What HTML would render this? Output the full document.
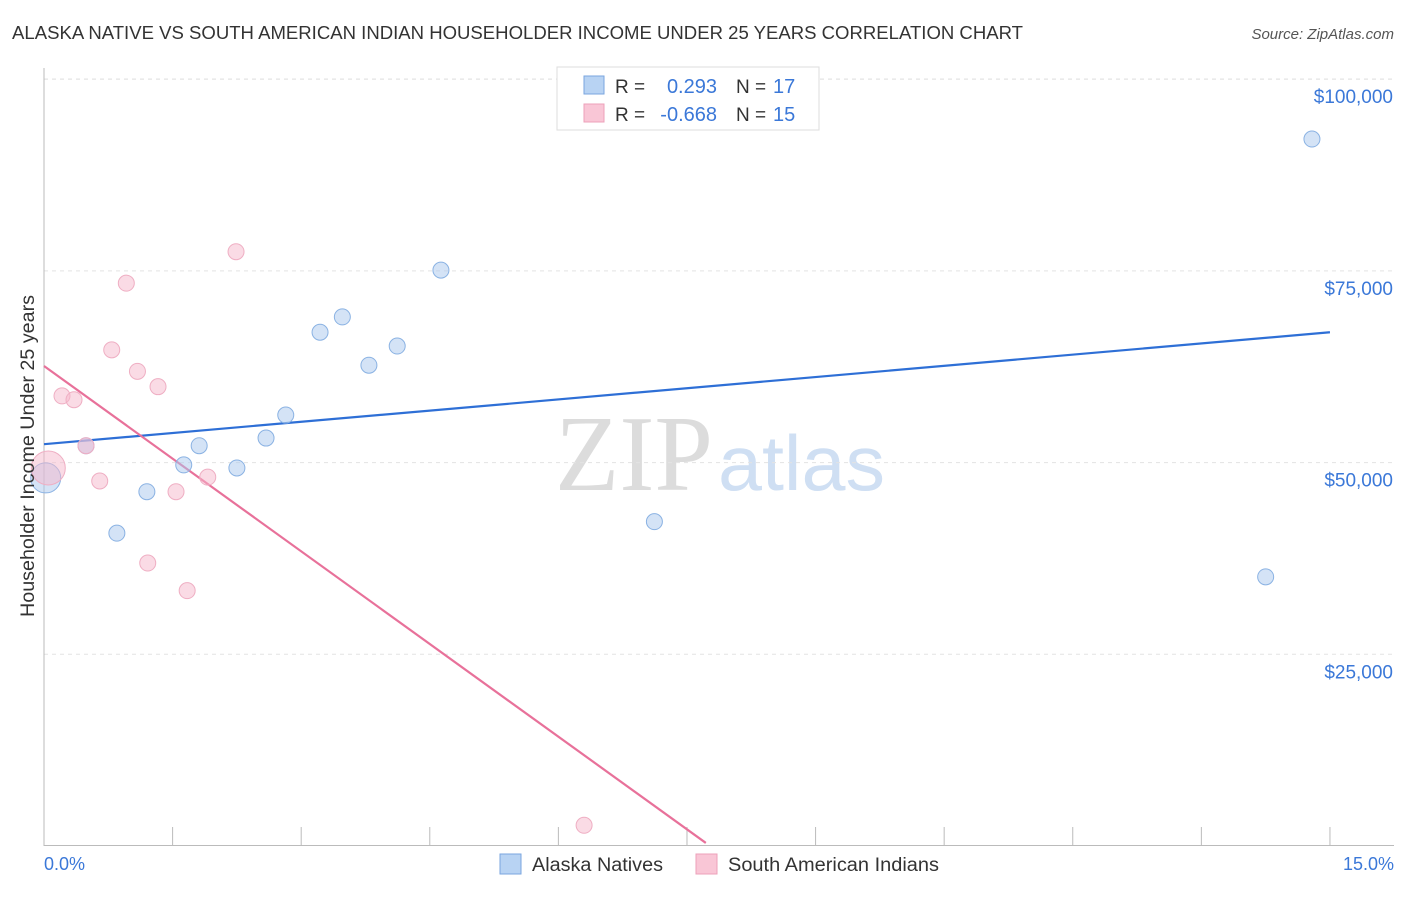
<!DOCTYPE html>
<html><head><meta charset="utf-8"><style>
body{margin:0;background:#fff;font-family:"Liberation Sans",sans-serif;}
</style></head><body>
<svg width="1406" height="892" xmlns="http://www.w3.org/2000/svg" id="chart">
<text x="12" y="39" font-size="18" fill="#333" textLength="1011" lengthAdjust="spacingAndGlyphs">ALASKA NATIVE VS SOUTH AMERICAN INDIAN HOUSEHOLDER INCOME UNDER 25 YEARS CORRELATION CHART</text>
<text x="1394" y="39" font-size="15" fill="#555" font-style="italic" text-anchor="end">Source: ZipAtlas.com</text>
<text x="555" y="490" font-size="108" fill="#dcdcdc" textLength="158" lengthAdjust="spacingAndGlyphs" font-family="Liberation Serif,serif">ZIP</text>
<text x="718" y="490" font-size="78" fill="#cfdff3" textLength="167" lengthAdjust="spacingAndGlyphs">atlas</text>
<g id="grid"></g><g id="axes"></g><g id="trends"></g><g id="points"></g>
<text transform="translate(34,456) rotate(-90)" font-size="19" fill="#333" text-anchor="middle" textLength="322" lengthAdjust="spacingAndGlyphs">Householder Income Under 25 years</text>
<text x="44" y="870" font-size="18" fill="#3b78d8">0.0%</text>
<text x="1394" y="870" font-size="18" fill="#3b78d8" text-anchor="end">15.0%</text>
<g>
<rect x="557" y="67" width="262" height="63" fill="#fff" stroke="#ddd"/>
<rect x="584" y="76" width="20" height="18" fill="#b8d3f3" stroke="#7aa6df"/>
<rect x="584" y="104" width="20" height="18" fill="#f9c6d6" stroke="#eda0ba"/>
<text x="615" y="93" font-size="19" fill="#333">R = </text><text x="717" y="93" font-size="20" fill="#3b78d8" text-anchor="end">0.293</text>
<text x="736" y="93" font-size="19" fill="#333">N = </text><text x="773" y="93" font-size="20" fill="#3b78d8">17</text>
<text x="615" y="121" font-size="19" fill="#333">R = </text><text x="717" y="121" font-size="20" fill="#3b78d8" text-anchor="end">-0.668</text>
<text x="736" y="121" font-size="19" fill="#333">N = </text><text x="773" y="121" font-size="20" fill="#3b78d8">15</text>
</g>
<g>
<rect x="500" y="854" width="21" height="20" fill="#b8d3f3" stroke="#7aa6df"/>
<text x="532" y="871" font-size="19" fill="#333" textLength="131" lengthAdjust="spacingAndGlyphs">Alaska Natives</text>
<rect x="696" y="854" width="21" height="20" fill="#f9c6d6" stroke="#eda0ba"/>
<text x="728" y="871" font-size="19" fill="#333" textLength="211" lengthAdjust="spacingAndGlyphs">South American Indians</text>
</g>
</svg>
<script>
const yTicks=[25000,50000,75000,100000];
const yTickLabels=["$25,000","$50,000","$75,000","$100,000"];
const xTicks=[0,1.5,3,4.5,6,7.5,9,10.5,12,13.5,15];
const blueX=[0.02,0.49,0.85,1.20,1.63,1.81,2.25,2.59,2.82,3.22,3.48,3.79,4.12,4.63,7.12,14.25,14.79];
const blueY=[48000,52200,40800,46200,49700,52200,49300,53200,56200,67000,69000,62700,65200,75100,42300,35100,92200];
const pinkX=[0.05,0.21,0.35,0.49,0.65,0.79,0.96,1.09,1.21,1.33,1.54,1.67,1.91,2.24,6.30];
const pinkY=[49300,58700,58200,52200,47600,64700,73400,61900,36900,59900,46200,33300,48100,77500,2700];
const blueTrendX=[0,15];
const blueTrendY=[52400,67000];
const pinkTrendX=[0,7.72];
const pinkTrendY=[62600,400];
const NS="http://www.w3.org/2000/svg";
const sx=v=>44+v*85.73, sy=v=>846-v/25000*191.7;
function mk(tag,attrs,parent){const e=document.createElementNS(NS,tag);for(const k in attrs)e.setAttribute(k,attrs[k]);document.getElementById(parent).appendChild(e);return e;}
yTicks.forEach((t,i)=>{
 const l=mk('line',{x1:44,x2:1394,y1:sy(t),y2:sy(t),stroke:'#e3e3e3','stroke-dasharray':'4,4'},'grid');
 
 
 const tx=mk('text',{x:1393,y:sy(t)+24,'font-size':19,fill:'#3b78d8','text-anchor':'end'},'grid');
 tx.textContent=yTickLabels[i];
 
 
});
const tg=mk('line',{x1:44,x2:1394,y1:79,y2:79,stroke:'#e3e3e3','stroke-dasharray':'4,4'},'grid');


const ya=mk('line',{x1:44,x2:44,y1:68,y2:846,stroke:'#bbb'},'axes');


const xa=mk('line',{x1:44,x2:1394,y1:845.5,y2:845.5,stroke:'#bbb'},'axes');


xTicks.forEach(t=>{
 const l=mk('line',{x1:sx(t),x2:sx(t),y1:827,y2:846,stroke:'#bbb'},'axes');
 
 
});
const bl=mk('line',{x1:sx(blueTrendX[0]),y1:sy(blueTrendY[0]),x2:sx(blueTrendX[1]),y2:sy(blueTrendY[1]),stroke:'#2e6fd6','stroke-width':2.2},'trends');


const pl=mk('line',{x1:sx(pinkTrendX[0]),y1:sy(pinkTrendY[0]),x2:sx(pinkTrendX[1]),y2:sy(pinkTrendY[1]),stroke:'#e8719a','stroke-width':2.2},'trends');


blueX.forEach((x,i)=>{
 const c=mk('circle',{cx:sx(x),cy:sy(blueY[i]),r:i===0?15:8,fill:'rgba(169,200,238,0.5)',stroke:'#8ab2e3','stroke-width':1},'points');
 
 
});
pinkX.forEach((x,i)=>{
 const c=mk('circle',{cx:sx(x),cy:sy(pinkY[i]),r:i===0?17:8,fill:'rgba(245,184,203,0.5)',stroke:'#efaec3','stroke-width':1},'points');
 
 
});
</script>
</body></html>
